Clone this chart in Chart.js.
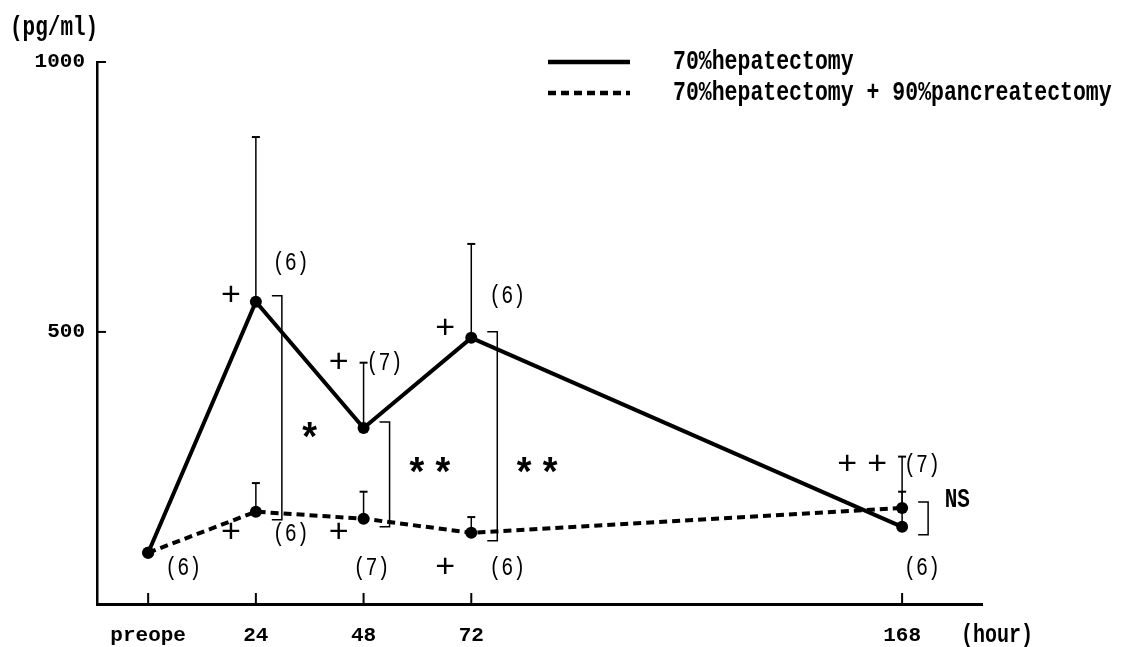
<!DOCTYPE html>
<html><head><meta charset="utf-8">
<script src="https://cdn.jsdelivr.net/npm/chart.js@4/dist/chart.umd.min.js"></script>
<style>html,body{margin:0;padding:0;background:#fff}canvas{display:block}</style>
</head><body>
<canvas id="c" width="1129" height="647"></canvas>
<script>
// ---- data ----
const hours = [0, 24, 48, 72, 168];
const xTickLabels = ['preope', '24', '48', '72', '168'];
const yTickValues = [500, 1000];
const hepMean = [91, 556, 322, 489, 139];
const hepSD = [0, 305, 121, 174, 130];
const panMean = [91, 167, 154, 128, 174];
const panSD = [0, 53, 50, 29, 30];
const hepN = [null, 6, 7, 6, 7];
const panN = [6, 6, 7, 6, 6];
const hepMarks = ['', '+', '+', '+', '+ +'];
const panMarks = ['', '+', '+', '+', ''];
const sigText = ['*', '* *', '* *', 'NS'];
const sigHour = [36, 62.8, 86.7, 180.3];
const sigValue = [315, 250, 250, 189];
const seriesNames = ['70%hepatectomy', '70%hepatectomy + 90%pancreatectomy'];
const yUnit = '(pg/ml)';
const xUnit = '(hour)';

// ---- styling / label placement (pixel offsets from anchors) ----
const FONT = '"Liberation Mono", "DejaVu Sans Mono", monospace';
const hepNOff = [null, {a:'pt',dx:35,dy:-39}, {a:'err',dx:21,dy:0}, {a:'pt',dx:36,dy:-42}, {a:'err',dx:20,dy:8}];
const hepMarkOff = [null, {a:'pt',dx:-25,dy:-6}, {a:'err',dx:-25,dy:0}, {a:'pt',dx:-26,dy:-9}, {a:'err',dx:-40,dy:8}];
const panMarkOff = [null, {dx:-25,dy:21}, {dx:-25,dy:14}, {dx:-26,dy:35}, null];
const panNOff = [{dx:35,dy:15}, {dx:35,dy:22}, {dx:8,dy:49}, {dx:36,dy:35}, {dx:20,dy:60}];

function txt(ctx, s, x, y, size, bold, align, sy, dy) {
  ctx.save();
  ctx.font = (bold ? 'bold ' : '') + size + 'px ' + FONT;
  ctx.textAlign = align || 'center';
  ctx.textBaseline = 'middle';
  ctx.fillStyle = '#000';
  ctx.translate(x, y + (dy || 0));
  ctx.scale(1, sy || 1.3);
  ctx.fillText(s, 0, 0);
  ctx.restore();
}
// draw space-separated symbols with a fixed gap
function syms(ctx, s, x, y, size, bold, gap, sy, dy) {
  const parts = s.split(' ');
  const w = (parts.length - 1) * gap;
  parts.forEach((p, k) => txt(ctx, p, x - w / 2 + k * gap, y, size, bold, 'center', sy, dy));
}
function line(ctx, pts, w, dash) {
  ctx.save();
  ctx.strokeStyle = '#000'; ctx.lineWidth = w; ctx.setLineDash(dash || []);
  ctx.beginPath();
  pts.forEach((p, i) => i ? ctx.lineTo(p[0], p[1]) : ctx.moveTo(p[0], p[1]));
  ctx.stroke();
  ctx.restore();
}

const annot = {
  id: 'annot',
  afterDatasetsDraw(chart) {
    const ctx = chart.ctx, xs = chart.scales.x, ys = chart.scales.y;
    const ca = chart.chartArea;
    // inner tick marks
    yTickValues.forEach(v => { const y = ys.getPixelForValue(v); line(ctx, [[ca.left, y], [ca.left + 9, y]], 2); });
    hours.forEach(h => { const x = xs.getPixelForValue(h); line(ctx, [[x, ca.bottom], [x, ca.bottom - 11]], 2); });
    // error bars
    [[hepMean, hepSD], [panMean, panSD]].forEach(([m, sd]) => {
      hours.forEach((h, i) => {
        if (!sd[i]) return;
        const x = xs.getPixelForValue(h), y0 = ys.getPixelForValue(m[i]), y1 = ys.getPixelForValue(m[i] + sd[i]);
        line(ctx, [[x, y0], [x, y1]], 1.5);
        line(ctx, [[x - 4, y1], [x + 4, y1]], 2);
      });
    });
    // brackets between groups
    hours.forEach((h, i) => {
      if (i === 0) return;
      const x = xs.getPixelForValue(h) + 26;
      const ya = ys.getPixelForValue(hepMean[i]), yb = ys.getPixelForValue(panMean[i]);
      const top = Math.min(ya, yb) - 6, bot = Math.max(ya, yb) + 8;
      line(ctx, [[x - 10, top], [x, top], [x, bot], [x - 10, bot]], 1.5);
    });
    // n labels & marks
    hours.forEach((h, i) => {
      const x = xs.getPixelForValue(h);
      const yp = ys.getPixelForValue(hepMean[i]);
      const ye = ys.getPixelForValue(hepMean[i] + hepSD[i]);
      const yd = ys.getPixelForValue(panMean[i]);
      if (hepN[i] != null) { const o = hepNOff[i]; txt(ctx, '(' + hepN[i] + ')', x + o.dx, (o.a === 'err' ? ye : yp) + o.dy, 20, false, 'center'); }
      if (hepMarks[i]) { const o = hepMarkOff[i]; syms(ctx, hepMarks[i], x + o.dx, (o.a === 'err' ? ye : yp) + o.dy, 34, false, 30, 1.0); }
      if (panMarks[i]) { const o = panMarkOff[i]; syms(ctx, panMarks[i], x + o.dx, yd + o.dy, 34, false, 30, 1.0); }
      if (panN[i] != null) { const o = panNOff[i]; txt(ctx, '(' + panN[i] + ')', x + o.dx, yd + o.dy, 20, false, 'center'); }
    });
    // significance
    sigText.forEach((s, i) => {
      const x = xs.getPixelForValue(sigHour[i]), y = ys.getPixelForValue(sigValue[i]);
      if (s === 'NS') txt(ctx, s, x, y, 21, true, 'center', 1.3);
      else syms(ctx, s, x, y, 38, true, 26, 1.05, 10);
    });
  },
  afterDraw(chart) {
    const ctx = chart.ctx;
    // units
    txt(ctx, yUnit, 10, 28, 21, true, 'left');
    txt(ctx, xUnit, 997, 635, 20, true, 'center');
    // legend
    const ds = chart.data.datasets;
    [62, 93].forEach((y, i) => {
      line(ctx, [[548, y], [630, y]], 4.5, ds[i].borderDash);
      txt(ctx, seriesNames[i], 673, y, 21.5, true, 'left');
    });
  }
};

new Chart(document.getElementById('c'), {
  type: 'line',
  data: {
    datasets: [
      { label: seriesNames[0], data: hours.map((h, i) => ({x: h, y: hepMean[i]})),
        borderColor: '#000', backgroundColor: '#000', borderWidth: 4, pointRadius: 6,
        pointBackgroundColor: '#000', pointBorderWidth: 0, tension: 0 },
      { label: seriesNames[1], data: hours.map((h, i) => ({x: h, y: panMean[i]})),
        borderColor: '#000', backgroundColor: '#000', borderWidth: 4, borderDash: [8, 5], pointRadius: 6,
        pointBackgroundColor: '#000', pointBorderWidth: 0, tension: 0 }
    ]
  },
  options: {
    responsive: false, animation: false, devicePixelRatio: 1,
    layout: { padding: { top: 62, right: 147, left: 0, bottom: 0 } },
    plugins: { legend: { display: false }, tooltip: { enabled: false } },
    scales: {
      x: {
        type: 'linear', min: -11.4, max: 185.8,
        grid: { display: false, drawTicks: false },
        border: { display: true, color: '#000', width: 3 },
        afterBuildTicks: s => { s.ticks = hours.map(v => ({ value: v })); },
        afterFit: s => { s.height = 43; },
        ticks: { autoSkip: false, maxRotation: 0, padding: 19, color: '#000',
          font: { family: FONT, size: 21, weight: 'bold' },
          callback: v => xTickLabels[hours.indexOf(v)] }
      },
      y: {
        min: -4, max: 1000,
        grid: { display: false, drawTicks: false },
        border: { display: true, color: '#000', width: 2.5 },
        afterBuildTicks: s => { s.ticks = yTickValues.map(v => ({ value: v })); },
        afterFit: s => { s.width = 97; },
        ticks: { padding: 12, color: '#000', font: { family: FONT, size: 21, weight: 'bold' },
          callback: v => String(v) }
      }
    }
  },
  plugins: [annot]
});
</script>
</body></html>
